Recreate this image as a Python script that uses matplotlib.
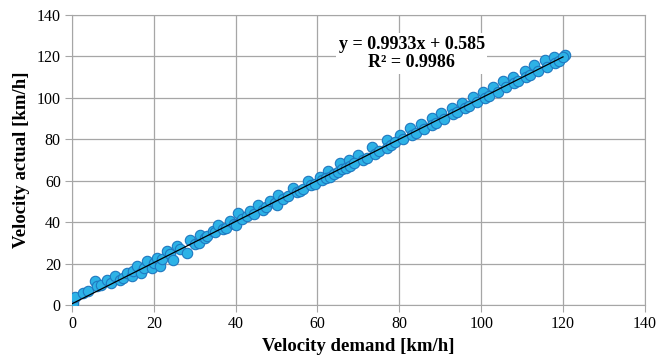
import matplotlib.pyplot as plt

# demand vs actual velocity [km/h]
demand_lo = [0, 0.3, 0.7, 2.7, 3.9, 5.6, 6.0, 7.0, 8.5, 9.5, 10.5, 11.7, 12.5, 13.4, 14.6,
             15.0, 15.8, 16.9, 17.5, 18.3, 19.5, 20.0, 20.7, 21.5, 22.0, 23.1, 24.0, 24.7,
             25.6, 26.5, 28.0, 28.9, 30.0, 31.0, 31.3, 32.5, 33.0, 34.5, 35.0, 35.8, 37.0,
             37.6, 38.6, 39.5, 40.2, 40.6, 41.5, 42.7, 43.5, 44.5, 45.5, 46.7, 47.5, 48.4,
             49.5, 50.0, 50.4, 51.5, 52.8, 54.0, 55.0, 55.7, 56.5, 57.7, 58.5, 59.4]
actual_lo = [0.3, 1.0, 3.8, 5.8, 6.8, 11.6, 9.0, 9.5, 12.2, 10.8, 14.0, 12.2, 13.0, 15.5, 14.0,
             16.5, 18.8, 15.5, 18.0, 21.3, 17.9, 20.5, 22.7, 18.8, 22.0, 26.0, 24.5, 21.8,
             28.5, 27.0, 25.0, 31.5, 29.5, 30.0, 34.0, 32.4, 33.5, 35.7, 35.0, 38.8, 36.5,
             37.2, 40.6, 39.0, 38.8, 44.4, 41.5, 43.0, 45.4, 44.0, 48.5, 46.0, 47.5, 50.2,
             49.0, 48.5, 53.3, 51.0, 52.6, 56.5, 54.5, 55.0, 56.0, 60.0, 57.8, 58.4]

demand_up = [60.5, 62.5, 65.6, 67.6, 70.0, 73.3, 76.9, 80.2, 82.6, 85.4, 87.9, 90.3, 92.8,
             95.2, 98.0, 100.5, 103.0, 105.4, 107.8, 110.6, 113.0, 115.5, 117.9, 120.4]
actual_up = [62.0, 64.5, 68.4, 70.0, 72.5, 76.5, 79.7, 82.1, 85.4, 87.4, 90.2, 92.6, 95.0,
             97.4, 100.3, 102.6, 105.3, 107.9, 110.3, 113.0, 116.0, 118.4, 119.9, 120.8]

demand_dn = [61, 62, 63, 64, 65, 66, 67, 68, 69, 71, 72, 74, 75, 77, 78, 79, 81, 83, 84, 86,
             88, 89, 91, 93, 94, 96, 97, 99, 101, 102, 104, 106, 108, 109, 111, 112, 114,
             116, 118, 119, 120]
actual_dn = [60.5, 61.5, 62.0, 63.2, 64.0, 65.5, 66.0, 67.0, 68.5, 70.0, 71.0, 73.0, 74.5,
             76.0, 77.0, 78.5, 80.0, 82.0, 83.0, 85.0, 87.0, 88.0, 90.0, 92.0, 93.0, 95.0,
             96.0, 98.0, 100.0, 101.0, 103.0, 105.0, 107.0, 108.0, 110.0, 111.0, 113.0,
             115.0, 117.0, 118.0, 119.5]

slope, intercept = 0.9933, 0.585

demand = demand_lo + demand_up + demand_dn
actual = actual_lo + actual_up + actual_dn

plt.rcParams['font.family'] = 'Liberation Serif'

fig = plt.figure(figsize=(6.58, 3.57), dpi=100)
ax = fig.add_axes([0.1094, 0.1457, 0.8706, 0.8123])

ax.plot(demand, actual, 'o', ms=7.5, mfc='#2DB2E6', mec='#1F78C0', mew=0.8, zorder=3)
ax.plot([0, 120], [intercept, slope * 120 + intercept], color='black', lw=0.9, zorder=4)

ax.set_xlim(0, 140)
ax.set_ylim(0, 140)
ax.set_xticks(range(0, 141, 20))
ax.set_yticks(range(0, 141, 20))
ax.grid(True, color='#A6A6A6', lw=0.9)
ax.set_axisbelow(True)
for s in ax.spines.values():
    s.set_color('#A6A6A6')
ax.tick_params(direction='out', length=5, color='#A6A6A6', labelsize=11.5, pad=3)

ax.set_xlabel('Velocity demand [km/h]', fontsize=13.5, fontweight='bold', labelpad=4)
ax.set_ylabel('Velocity actual [km/h]', fontsize=13.5, fontweight='bold', labelpad=5)

ax.text(83, 121.5, 'y = 0.9933x + 0.585\nR² = 0.9986', ha='center', va='center',
        fontsize=13, fontweight='bold', linespacing=1.1,
        bbox=dict(facecolor='white', edgecolor='none', pad=2), zorder=5)

plt.savefig('out.png', dpi=100)
